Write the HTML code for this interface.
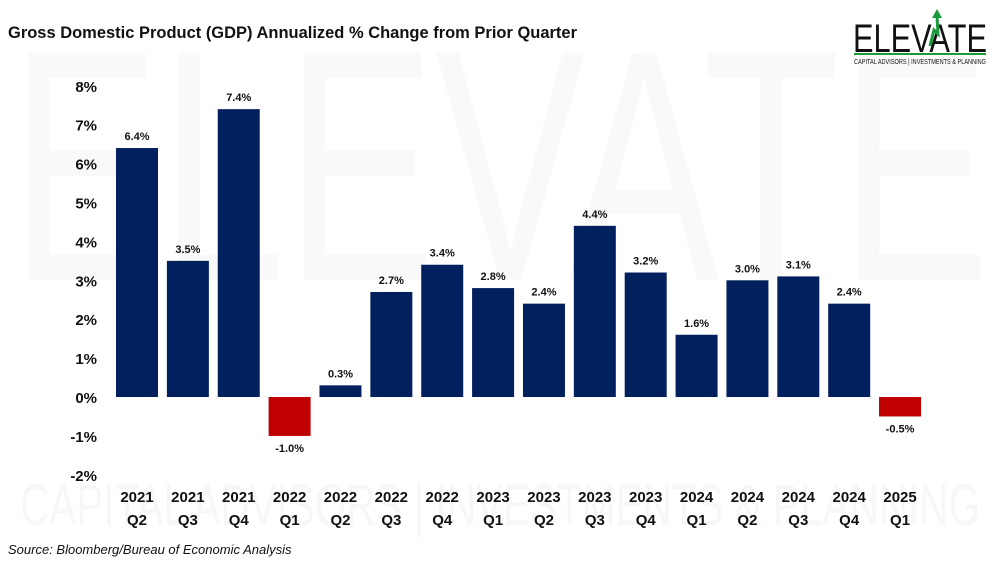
<!DOCTYPE html>
<html><head><meta charset="utf-8"><style>
body{margin:0;background:#fff}
svg{display:block;font-family:"Liberation Sans",sans-serif}
</style></head><body>
<svg id="chart" width="1000" height="563" viewBox="0 0 1000 563">
<rect width="1000" height="563" fill="#fff"/>
<text x="8" y="38" font-size="17" font-weight="bold" fill="#111" textLength="569" lengthAdjust="spacingAndGlyphs">Gross Domestic Product (GDP) Annualized % Change from Prior Quarter</text>
<text x="10" y="280" font-size="330" fill="#f9f9f9" textLength="980" lengthAdjust="spacingAndGlyphs">ELEVATE</text>
<text x="20" y="525" font-size="58" fill="#f7f7f7" textLength="960" lengthAdjust="spacingAndGlyphs">CAPITAL ADVISORS | INVESTMENTS &amp; PLANNING</text>
<g>
<text x="853" y="52" font-size="40" fill="#111" textLength="134" lengthAdjust="spacingAndGlyphs">ELEVATE</text>
<path d="M930 46 L934 30 L938 34 L937 16" stroke="#1a9a3a" stroke-width="3" fill="none"/>
<path d="M932 18 L937 9 L942 18 Z" fill="#1a9a3a"/>
<rect x="854" y="53" width="132" height="2" fill="#1a9a3a"/>
<text x="854" y="64" font-size="7.5" fill="#111" textLength="132" lengthAdjust="spacingAndGlyphs">CAPITAL ADVISORS | INVESTMENTS &amp; PLANNING</text>
</g>
<g id="axis"></g><g id="bars"></g>
<text x="8" y="554" font-size="13" font-style="italic" fill="#111">Source: Bloomberg/Bureau of Economic Analysis</text>
</svg>
<script>
const years=["2021","2021","2021","2022","2022","2022","2022","2023","2023","2023","2023","2024","2024","2024","2024","2025"];
const quarters=["Q2","Q3","Q4","Q1","Q2","Q3","Q4","Q1","Q2","Q3","Q4","Q1","Q2","Q3","Q4","Q1"];
const values=[6.4,3.5,7.4,-1.0,0.3,2.7,3.4,2.8,2.4,4.4,3.2,1.6,3.0,3.1,2.4,-0.5];
const ticks=[-2,-1,0,1,2,3,4,5,6,7,8];
const NS="http://www.w3.org/2000/svg";
const y=v=>397-v*38.9;
const x=i=>137+i*50.87;
function mk(t,a,p,txt){const e=document.createElementNS(NS,t);for(const k in a)e.setAttribute(k,a[k]);if(txt!=null)e.textContent=txt;p.appendChild(e);return e;}
const ax=document.getElementById('axis'),bg=document.getElementById('bars');
ticks.forEach(t=>{const e=mk('text',{x:97,y:y(t)+6,'font-size':15,'font-weight':'bold','text-anchor':'end',fill:'#111'},ax,t+'%');

});
values.forEach((v,i)=>{
const top=v>=0?y(v):y(0);const h=Math.abs(y(v)-y(0));
const r=mk('rect',{x:x(i)-21,y:top,width:42,height:h,fill:v>=0?'#03205e':'#c00000'},bg);


const l=mk('text',{x:x(i),y:v>=0?y(v)-8:y(v)+16,'font-size':11,'font-weight':'bold','text-anchor':'middle',fill:'#111'},bg,v.toFixed(1)+'%');


const c1=mk('text',{x:x(i),y:502,'font-size':15,'font-weight':'bold','text-anchor':'middle',fill:'#111'},ax,years[i]);


const c2=mk('text',{x:x(i),y:525,'font-size':15,'font-weight':'bold','text-anchor':'middle',fill:'#111'},ax,quarters[i]);


});
</script>
</body></html>
